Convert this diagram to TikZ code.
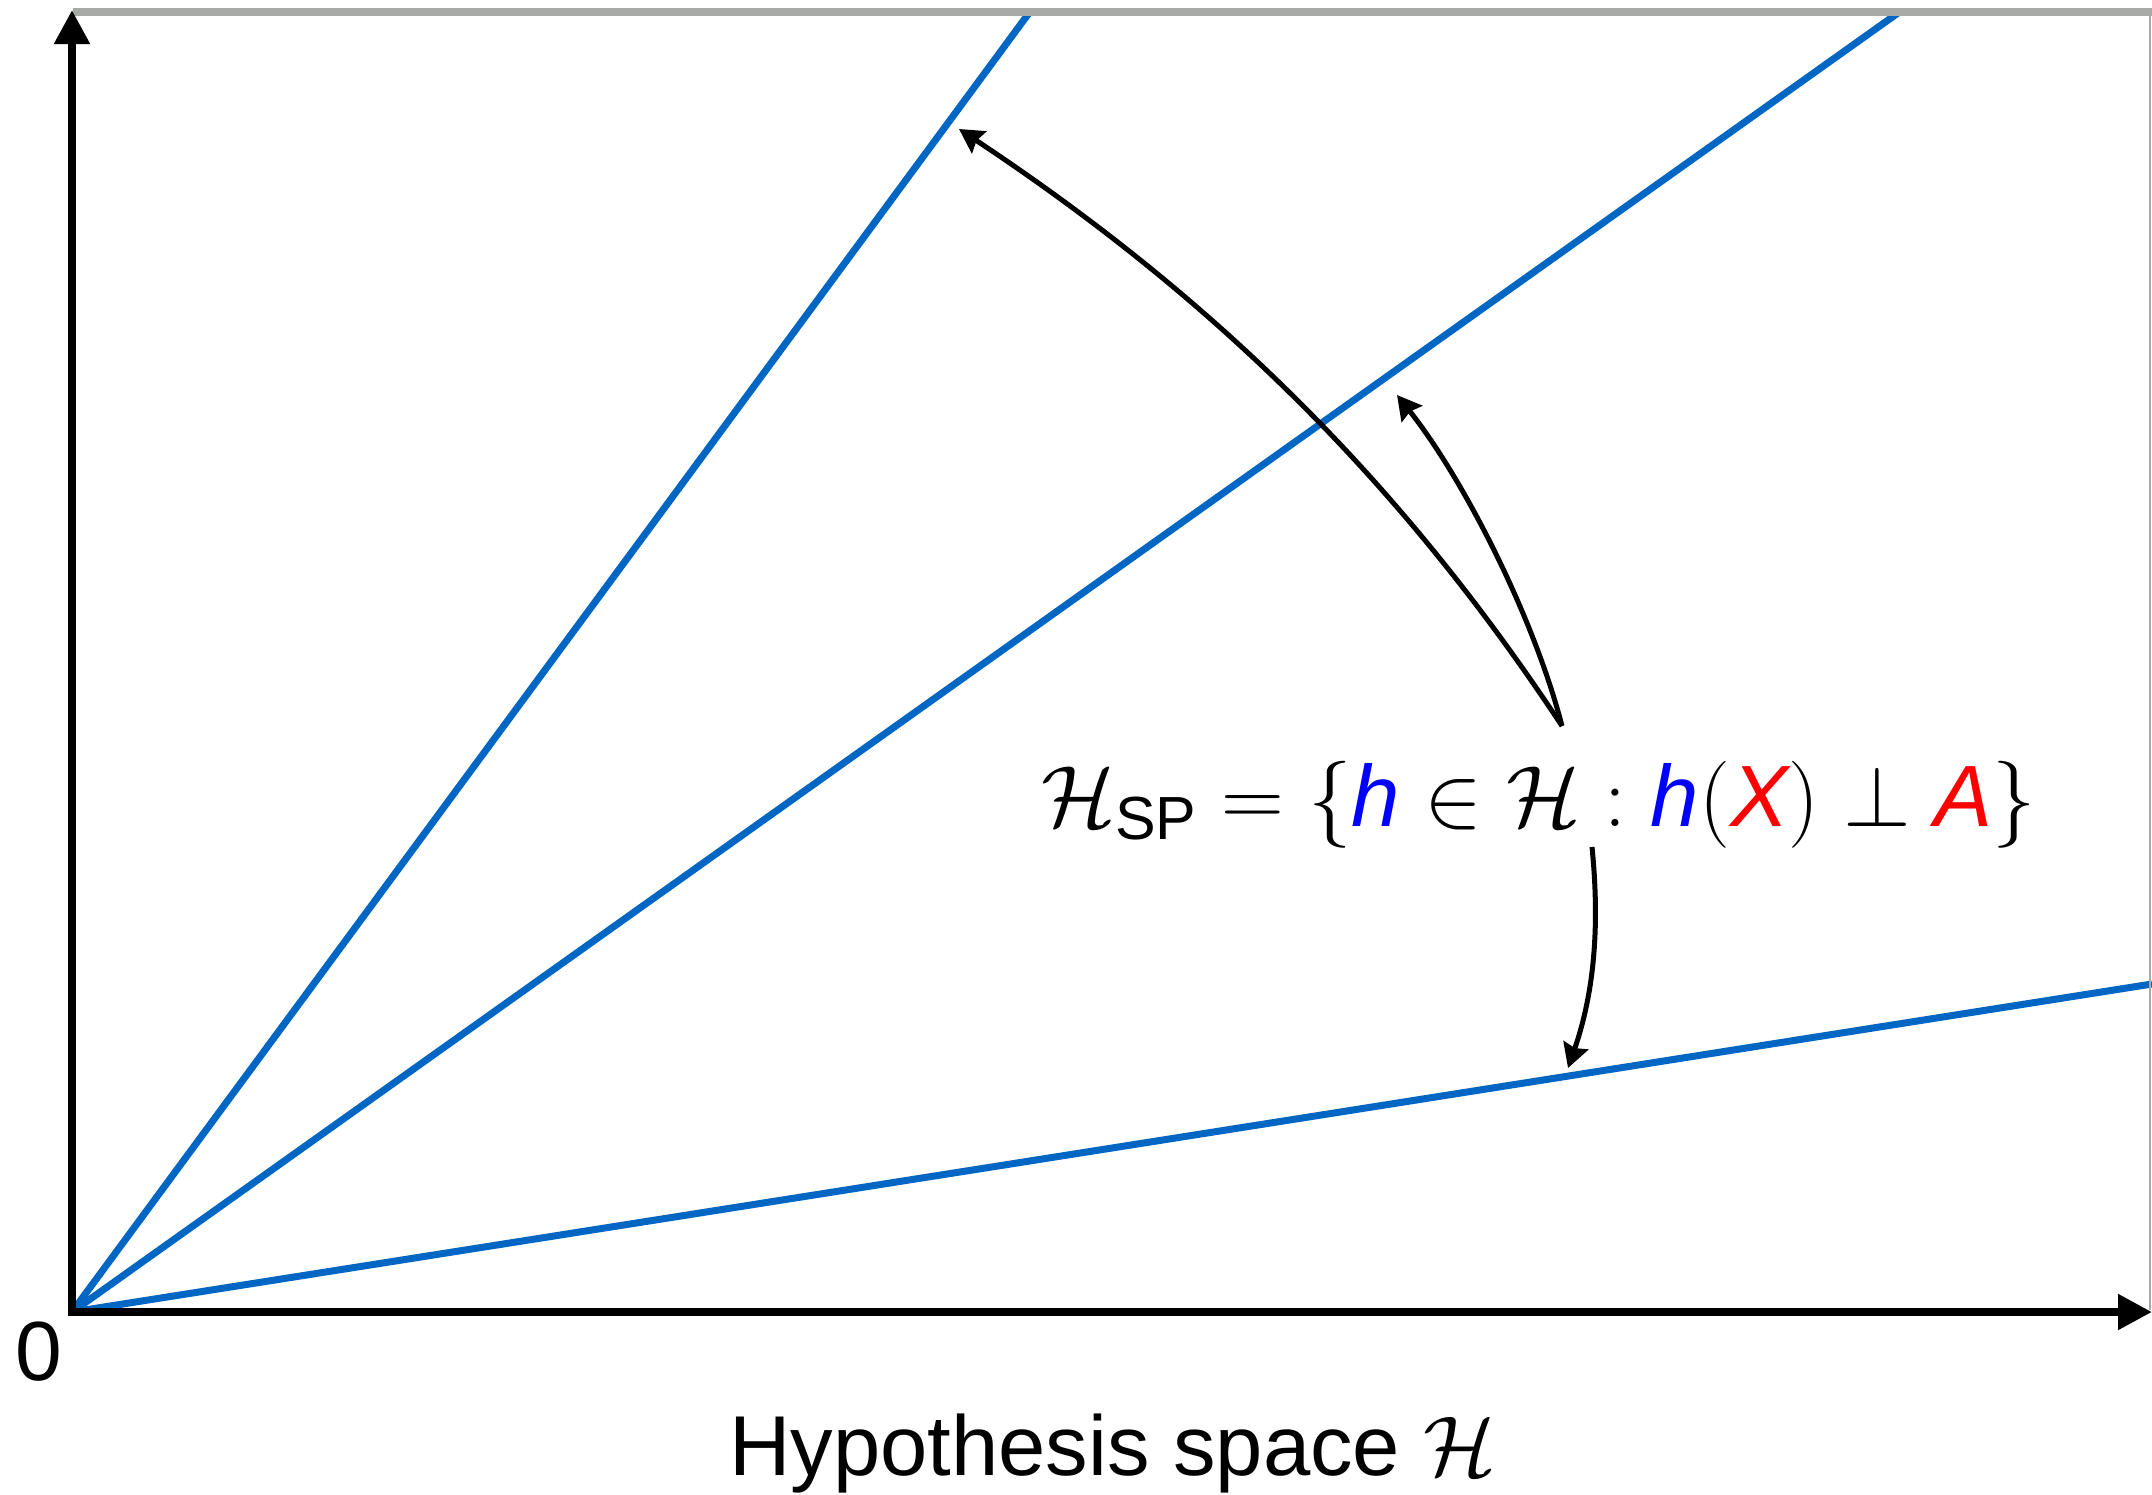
\RequirePackage{fix-cm}
\documentclass[tikz,border=0pt]{standalone}
\usepackage{amsmath}
\usepackage{fontspec}
\setmainfont{Liberation Sans}
\usetikzlibrary{arrows.meta}
\definecolor{rayblue}{RGB}{0,102,196}
\definecolor{framegray}{RGB}{168,170,168}
\definecolor{hblue}{RGB}{0,0,255}
\definecolor{xred}{RGB}{255,0,0}
\tikzset{
  axisline/.style={line width=4pt, line join=miter,
    {Triangle[length=17pt,width=17pt]}-{Triangle[length=17pt,width=17pt]}},
  ray/.style={rayblue, line width=3.5pt},
  frameline/.style={framegray},
  pointer/.style={line width=2.5pt, -{Stealth[length=12pt,width=13pt,inset=1.5pt]}},
}
\begin{document}
\begin{tikzpicture}[x=0.5pt,y=-0.5pt]
\useasboundingbox (0,0) rectangle (2152,1494);
% key points
\coordinate (O) at (72,1312);
\coordinate (ytop) at (72,10);
\coordinate (xend) at (2152,1312);
\coordinate (r1) at (1029,13);
\coordinate (r2) at (1898,13);
\coordinate (r3) at (2152,984);
% rays
\draw[ray] (O) -- (r1);
\draw[ray] (O) -- (r2);
\draw[ray] (O) -- (r3);
% frame
\draw[frameline, line width=4pt] (73,12) coordinate (ftl) -- (2152,12) coordinate (ftr);
\draw[frameline, line width=1.2pt] (2150,12) coordinate (frt) -- (2150,1310) coordinate (frb);
% axes
\draw[axisline] (ytop) -- (O) -- (xend);
% labels
\node[font=\fontsize{42}{50}\selectfont] (zero) at (39,1352) {0};
\node[font=\fontsize{42.5}{50}\selectfont, inner sep=0pt, anchor=base west] (xlabel) at (729,1475) {Hypothesis space $\mathcal{H}$};
\node[font=\fontsize{43.5}{50}\selectfont] (set) at (1539,805)
  {$\mathcal{H}_{\text{SP}} = \{{\color{hblue}\textit{h}} \in \mathcal{H} : {\color{hblue}\textit{h}}({\color{xred}\textit{X}}) \perp {\color{xred}\textit{A}}\}$};
% pointers
\coordinate (s1) at (1562,726);
\coordinate (s2) at (1592,847);
\coordinate (tA) at (959,129);
\coordinate (tB) at (1397,395);
\coordinate (tC) at (1568,1068);
\draw[pointer] (s1) .. controls (1397,476) and (1208,294) .. (tA);
\draw[pointer] (s1) .. controls (1534,618) and (1465,481) .. (tB);
\draw[pointer] (s2) .. controls (1600,927) and (1594,993) .. (tC);
\end{tikzpicture}
\end{document}
